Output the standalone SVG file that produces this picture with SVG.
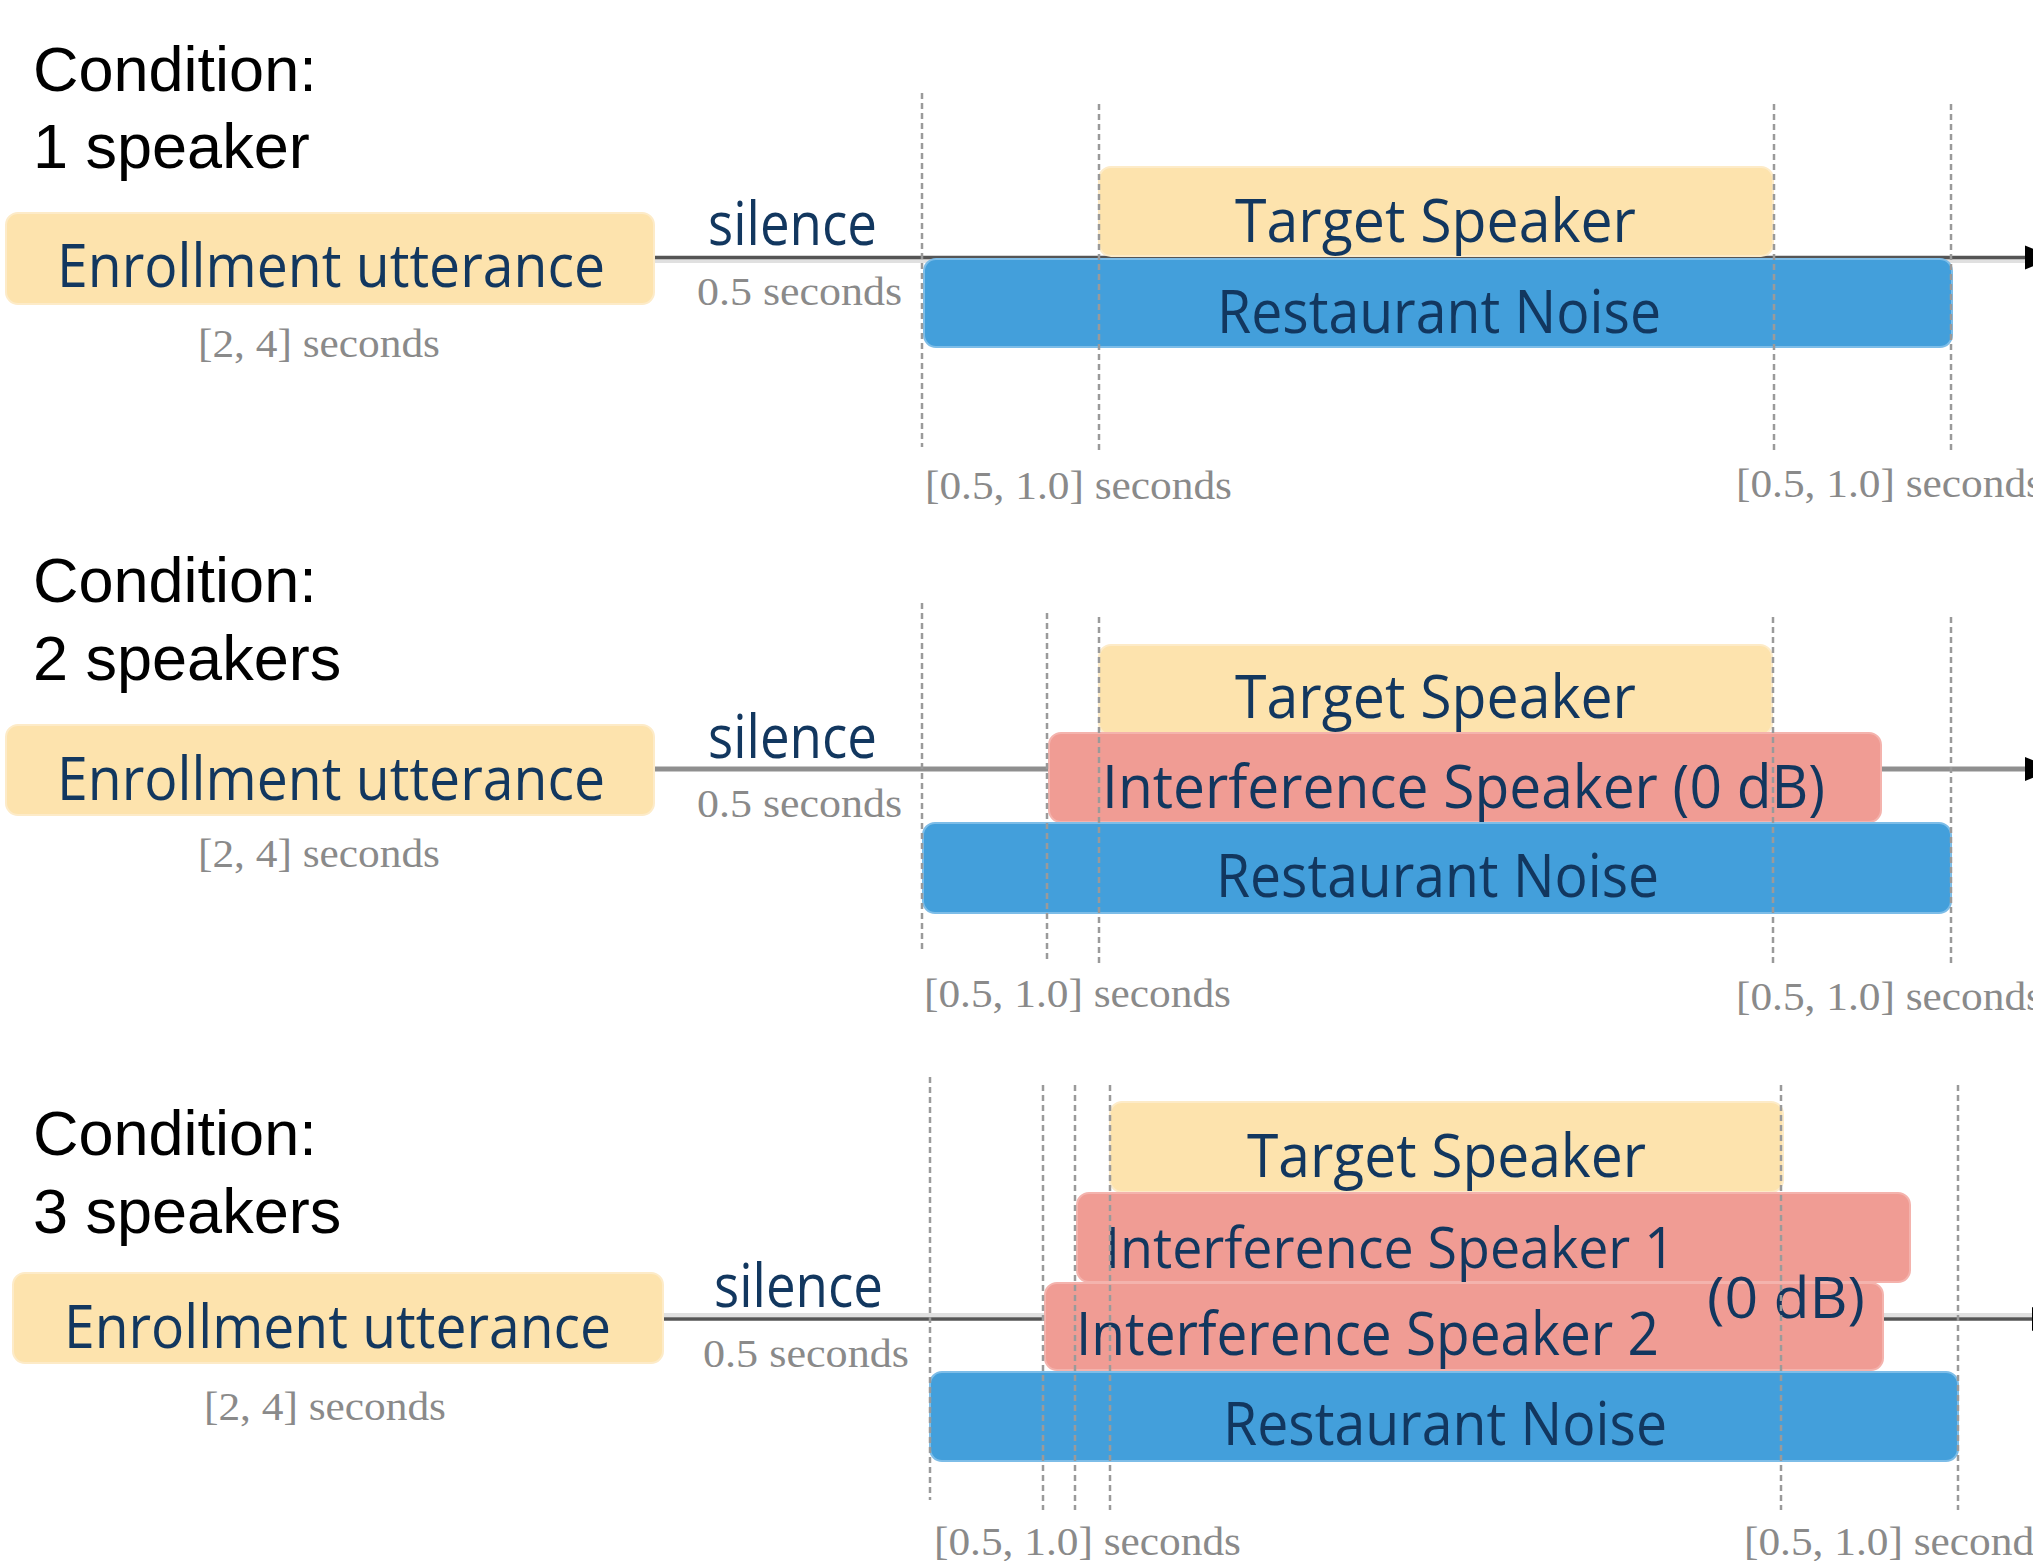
<svg xmlns="http://www.w3.org/2000/svg" width="2033" height="1561" viewBox="0 0 2033 1561">
<defs>
<style>
.cond{font-family:"Liberation Sans",Arial,sans-serif;font-size:63px;fill:#000}
.lbl{font-family:"Open Sans","Noto Sans",sans-serif;font-size:60px;fill:#12375f;text-anchor:middle}
.sm{font-size:57px}
.dur{font-family:"Liberation Serif","Times New Roman",serif;font-size:41px;fill:#8a8a8a}
.mid-a{text-anchor:middle}
.yel{fill:#fde3ad;stroke:#fdebc8;stroke-width:2}
.red{fill:#f09c94;stroke:#f4b3ad;stroke-width:2}
.blu{fill:#439fdb;stroke:#7dbde8;stroke-width:2}
.guide{stroke:#9a9a9a;stroke-width:2.5;stroke-dasharray:6 4;fill:none}
.dark{stroke:#555;stroke-width:3.5;fill:none}
.light{stroke:#e0e0e0;stroke-width:4;fill:none}
.midl{stroke:#8f8f8f;stroke-width:5;fill:none}
</style>
<marker id="arr" markerUnits="userSpaceOnUse" markerWidth="40" markerHeight="24" refX="0" refY="12" orient="auto" overflow="visible">
<path d="M0,0 L30,12 L0,24 z" fill="#000"/>
</marker>
</defs>
<rect width="2033" height="1561" fill="#fff"/>

<g id="connectors">
<line class="light" x1="654" y1="261" x2="2025" y2="261"/>
<line class="dark" x1="654" y1="257.5" x2="2025" y2="257.5" marker-end="url(#arr)"/>
<line class="midl" x1="654" y1="769" x2="2025" y2="769" marker-end="url(#arr)"/>
<line class="light" x1="663" y1="1315" x2="2032" y2="1315"/>
<line class="dark" x1="663" y1="1319" x2="2032" y2="1319" marker-end="url(#arr)"/>
</g>

<!-- Condition 1 -->
<g id="cond1-label">
<text class="cond" x="33" y="91">Condition:</text>
<text class="cond" x="33" y="168">1 speaker</text>
</g>
<g id="c1-enrollment">
<rect class="yel" x="6" y="213" width="648" height="91" rx="12"/>
<text class="lbl" x="331" y="287" textLength="548" lengthAdjust="spacingAndGlyphs">Enrollment utterance</text>
<text class="dur mid-a" x="319" y="357" textLength="242" lengthAdjust="spacingAndGlyphs">[2, 4] seconds</text>
</g>
<g id="c1-silence">
<text class="lbl" x="792.5" y="245" textLength="169" lengthAdjust="spacingAndGlyphs">silence</text>
<text class="dur mid-a" x="799.5" y="305" textLength="205" lengthAdjust="spacingAndGlyphs">0.5 seconds</text>
</g>
<g id="c1-target">
<rect class="yel" x="1099" y="167" width="674" height="89" rx="12"/>
<text class="lbl" x="1435.5" y="242" textLength="401" lengthAdjust="spacingAndGlyphs">Target Speaker</text>
</g>
<g id="c1-noise">
<rect class="blu" x="924" y="259" width="1028" height="88" rx="12"/>
<text class="lbl" x="1439" y="333" textLength="444" lengthAdjust="spacingAndGlyphs">Restaurant Noise</text>
</g>
<g id="c1-durations">
<text class="dur" x="925" y="499" textLength="307" lengthAdjust="spacingAndGlyphs">[0.5, 1.0] seconds</text>
<text class="dur" x="1736" y="497" textLength="307" lengthAdjust="spacingAndGlyphs">[0.5, 1.0] seconds</text>
</g>

<!-- Condition 2 -->
<g id="cond2-label">
<text class="cond" x="33" y="602">Condition:</text>
<text class="cond" x="33" y="680">2 speakers</text>
</g>
<g id="c2-enrollment">
<rect class="yel" x="6" y="725" width="648" height="90" rx="12"/>
<text class="lbl" x="331" y="800" textLength="548" lengthAdjust="spacingAndGlyphs">Enrollment utterance</text>
<text class="dur mid-a" x="319" y="867" textLength="242" lengthAdjust="spacingAndGlyphs">[2, 4] seconds</text>
</g>
<g id="c2-silence">
<text class="lbl" x="792.5" y="758" textLength="169" lengthAdjust="spacingAndGlyphs">silence</text>
<text class="dur mid-a" x="799.5" y="817" textLength="205" lengthAdjust="spacingAndGlyphs">0.5 seconds</text>
</g>
<g id="c2-target">
<rect class="yel" x="1099" y="645" width="673" height="90" rx="12"/>
<text class="lbl" x="1435.5" y="718" textLength="401" lengthAdjust="spacingAndGlyphs">Target Speaker</text>
</g>
<g id="c2-interference">
<rect class="red" x="1049" y="733" width="832" height="89" rx="12"/>
<text class="lbl" x="1463.5" y="808" textLength="723" lengthAdjust="spacingAndGlyphs">Interference Speaker (0 dB)</text>
</g>
<g id="c2-noise">
<rect class="blu" x="923" y="823" width="1028" height="90" rx="12"/>
<text class="lbl" x="1437.5" y="897" textLength="443" lengthAdjust="spacingAndGlyphs">Restaurant Noise</text>
</g>
<g id="c2-durations">
<text class="dur" x="924" y="1007" textLength="307" lengthAdjust="spacingAndGlyphs">[0.5, 1.0] seconds</text>
<text class="dur" x="1736" y="1010" textLength="307" lengthAdjust="spacingAndGlyphs">[0.5, 1.0] seconds</text>
</g>

<!-- Condition 3 -->
<g id="cond3-label">
<text class="cond" x="33" y="1155">Condition:</text>
<text class="cond" x="33" y="1233">3 speakers</text>
</g>
<g id="c3-enrollment">
<rect class="yel" x="13" y="1273" width="650" height="90" rx="12"/>
<text class="lbl" x="337.5" y="1348" textLength="547" lengthAdjust="spacingAndGlyphs">Enrollment utterance</text>
<text class="dur mid-a" x="325" y="1420" textLength="242" lengthAdjust="spacingAndGlyphs">[2, 4] seconds</text>
</g>
<g id="c3-silence">
<text class="lbl" x="798.5" y="1307" textLength="169" lengthAdjust="spacingAndGlyphs">silence</text>
<text class="dur mid-a" x="806" y="1367" textLength="206" lengthAdjust="spacingAndGlyphs">0.5 seconds</text>
</g>
<g id="c3-target">
<rect class="yel" x="1110" y="1102" width="673" height="90" rx="12"/>
<text class="lbl" x="1446.5" y="1177" textLength="399" lengthAdjust="spacingAndGlyphs">Target Speaker</text>
</g>
<g id="c3-interference1">
<rect class="red" x="1077" y="1193" width="833" height="89" rx="12"/>
<text class="lbl sm" x="1390" y="1268" textLength="570" lengthAdjust="spacingAndGlyphs">Interference Speaker 1</text>
</g>
<g id="c3-interference2">
<rect class="red" x="1045" y="1283" width="838" height="87" rx="12"/>
<text class="lbl" x="1367.5" y="1355" textLength="583" lengthAdjust="spacingAndGlyphs">Interference Speaker 2</text>
</g>
<g id="c3-level">
<text class="lbl sm" x="1786" y="1318" textLength="158" lengthAdjust="spacingAndGlyphs">(0 dB)</text>
</g>
<g id="c3-noise">
<rect class="blu" x="930" y="1372" width="1028" height="89" rx="12"/>
<text class="lbl" x="1445" y="1445" textLength="444" lengthAdjust="spacingAndGlyphs">Restaurant Noise</text>
</g>
<g id="c3-durations">
<text class="dur" x="934" y="1555" textLength="307" lengthAdjust="spacingAndGlyphs">[0.5, 1.0] seconds</text>
<text class="dur" x="1744" y="1555" textLength="307" lengthAdjust="spacingAndGlyphs">[0.5, 1.0] seconds</text>
</g>

<g id="guides">
<line class="guide" x1="922" y1="93" x2="922" y2="447"/>
<line class="guide" x1="1099" y1="104" x2="1099" y2="454"/>
<line class="guide" x1="1774" y1="104" x2="1774" y2="454"/>
<line class="guide" x1="1951" y1="104" x2="1951" y2="454"/>

<line class="guide" x1="922" y1="603" x2="922" y2="953"/>
<line class="guide" x1="1047" y1="613" x2="1047" y2="960"/>
<line class="guide" x1="1099" y1="617" x2="1099" y2="967"/>
<line class="guide" x1="1773" y1="617" x2="1773" y2="963"/>
<line class="guide" x1="1951" y1="617" x2="1951" y2="967"/>

<line class="guide" x1="930" y1="1077" x2="930" y2="1500"/>
<line class="guide" x1="1043" y1="1085" x2="1043" y2="1510"/>
<line class="guide" x1="1075" y1="1085" x2="1075" y2="1510"/>
<line class="guide" x1="1110" y1="1085" x2="1110" y2="1510"/>
<line class="guide" x1="1781" y1="1085" x2="1781" y2="1510"/>
<line class="guide" x1="1958" y1="1085" x2="1958" y2="1510"/>
</g>
</svg>
